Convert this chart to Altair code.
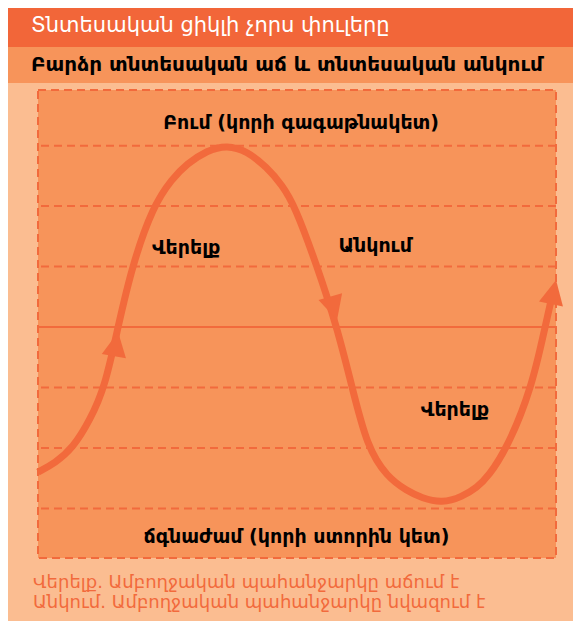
import altair as alt
import pandas as pd

# ---- text ----
title_text = "Տնտեսական ցիկլի չորս փուլերը"
subtitle_text = "Բարձր տնտեսական աճ և տնտեսական անկում"
footer_lines = [
    "Վերելք. Ամբողջական պահանջարկը աճում է",
    "Անկում. Ամբողջական պահանջարկը նվազում է",
]

# ---- curve (time 0-100, level in grid units) ----
curve_x = [0.0, 3.28, 6.76, 10.04, 12.93, 15.44, 18.15, 22.2, 25.87, 28.76, 32.63,
           36.49, 40.35, 44.21, 47.1, 49.61, 53.86, 57.72, 60.62, 63.51, 67.37,
           71.24, 74.13, 77.99, 81.85, 84.75, 86.87, 90.73, 95.37, 97.88, 99.42]
curve_y = [-2.40, -2.25, -2.0, -1.54, -0.99, 0.0, 1.01, 2.0, 2.45, 2.70, 2.92,
           3.01, 2.91, 2.64, 2.35, 2.0, 1.01, 0.0, -0.99, -1.98, -2.48,
           -2.71, -2.83, -2.91, -2.81, -2.65, -2.48, -1.98, -0.99, 0.0, 0.58]

# ---- arrow heads ----
arrow_x = [15.06, 57.08, 99.52]
arrow_y = [-0.28, 0.31, 0.58]
arrow_angle = [10, 164, 12]

# ---- grid ----
grid_levels = [-3, -2, -1, 1, 2, 3]
center_levels = [0]

# ---- labels inside the plot ----
label_text = ["Բում (կորի գագաթնակետ)", "Վերելք", "Անկում", "Վերելք",
              "ճգնաժամ (կորի ստորին կետ)"]
label_x = [50.8, 28.6, 65.1, 80.5, 49.9]
label_y = [3.37, 1.31, 1.34, -1.37, -3.47]

TITLE_BAR = "#F26639"
SUB_BAR = "#F7945A"
PEACH = "#FBBD91"
LINE = "#F26A3C"
FONT = "DejaVu Sans"

xs = alt.Scale(domain=[0, 100], nice=False, zero=False)
ys = alt.Scale(domain=[-3.82, 3.92], nice=False, zero=False)

one = pd.DataFrame({"k": [0]})

curve_df = pd.DataFrame({"t": curve_x, "level": curve_y})
arrow_df = pd.DataFrame({"t": arrow_x, "level": arrow_y, "angle": arrow_angle})
grid_df = pd.DataFrame({"level": grid_levels})
center_df = pd.DataFrame({"level": center_levels})
label_df = pd.DataFrame({"t": label_x, "level": label_y, "txt": label_text})

title_bar = alt.Chart(one).mark_rect(color=TITLE_BAR).encode(
    x=alt.value(-30), x2=alt.value(540), y=alt.value(-82), y2=alt.value(-43))
sub_bar = alt.Chart(one).mark_rect(color=SUB_BAR).encode(
    x=alt.value(-30), x2=alt.value(540), y=alt.value(-43), y2=alt.value(-7))
title_mark = alt.Chart(one).mark_text(
    align="left", baseline="middle", font=FONT, fontSize=21, color="white").encode(
    x=alt.value(-7), y=alt.value(-64), text=alt.value(title_text))
sub_mark = alt.Chart(one).mark_text(
    align="left", baseline="middle", font=FONT, fontSize=20, fontWeight="bold",
    color="black").encode(
    x=alt.value(-7), y=alt.value(-25), text=alt.value(subtitle_text))

grid = alt.Chart(grid_df).mark_rule(color=LINE, strokeWidth=2, strokeDash=[8, 5]).encode(
    y=alt.Y("level:Q", scale=ys, axis=None))
center = alt.Chart(center_df).mark_rule(color=LINE, strokeWidth=2).encode(
    y=alt.Y("level:Q", scale=ys, axis=None))

curve = alt.Chart(curve_df).mark_line(
    interpolate="basis", color=LINE, strokeWidth=7).encode(
    x=alt.X("t:Q", scale=xs, axis=None),
    y=alt.Y("level:Q", scale=ys, axis=None),
    order="t:Q")

arrows = alt.Chart(arrow_df).mark_point(
    shape="M0,-1L1,1L-1,1Z", size=600, filled=True, opacity=1, color=LINE).encode(
    x=alt.X("t:Q", scale=xs, axis=None),
    y=alt.Y("level:Q", scale=ys, axis=None),
    angle=alt.Angle("angle:Q", scale=None))

labels = alt.Chart(label_df).mark_text(
    font=FONT, fontSize=19, fontWeight="bold", color="black",
    align="center", baseline="middle").encode(
    x=alt.X("t:Q", scale=xs, axis=None),
    y=alt.Y("level:Q", scale=ys, axis=None),
    text="txt:N")

foot1 = alt.Chart(one).mark_text(
    align="left", baseline="middle", font=FONT, fontSize=18, color=LINE).encode(
    x=alt.value(-5), y=alt.value(493), text=alt.value(footer_lines[0]))
foot2 = alt.Chart(one).mark_text(
    align="left", baseline="middle", font=FONT, fontSize=18, color=LINE).encode(
    x=alt.value(-5), y=alt.value(513), text=alt.value(footer_lines[1]))

chart = alt.layer(
    title_bar, sub_bar, title_mark, sub_mark, grid, center, curve, arrows, labels,
    foot1, foot2
).properties(
    width=518, height=468,
    autosize=alt.AutoSizeParams(type="none"),
    padding={"left": 30, "top": 82, "right": 17, "bottom": 63},
    background=PEACH,
).configure_view(
    fill=SUB_BAR, stroke=LINE, strokeWidth=2, strokeDash=[8, 5]
)

chart.save("out.html", embed_options={"renderer": "svg", "actions": False})
